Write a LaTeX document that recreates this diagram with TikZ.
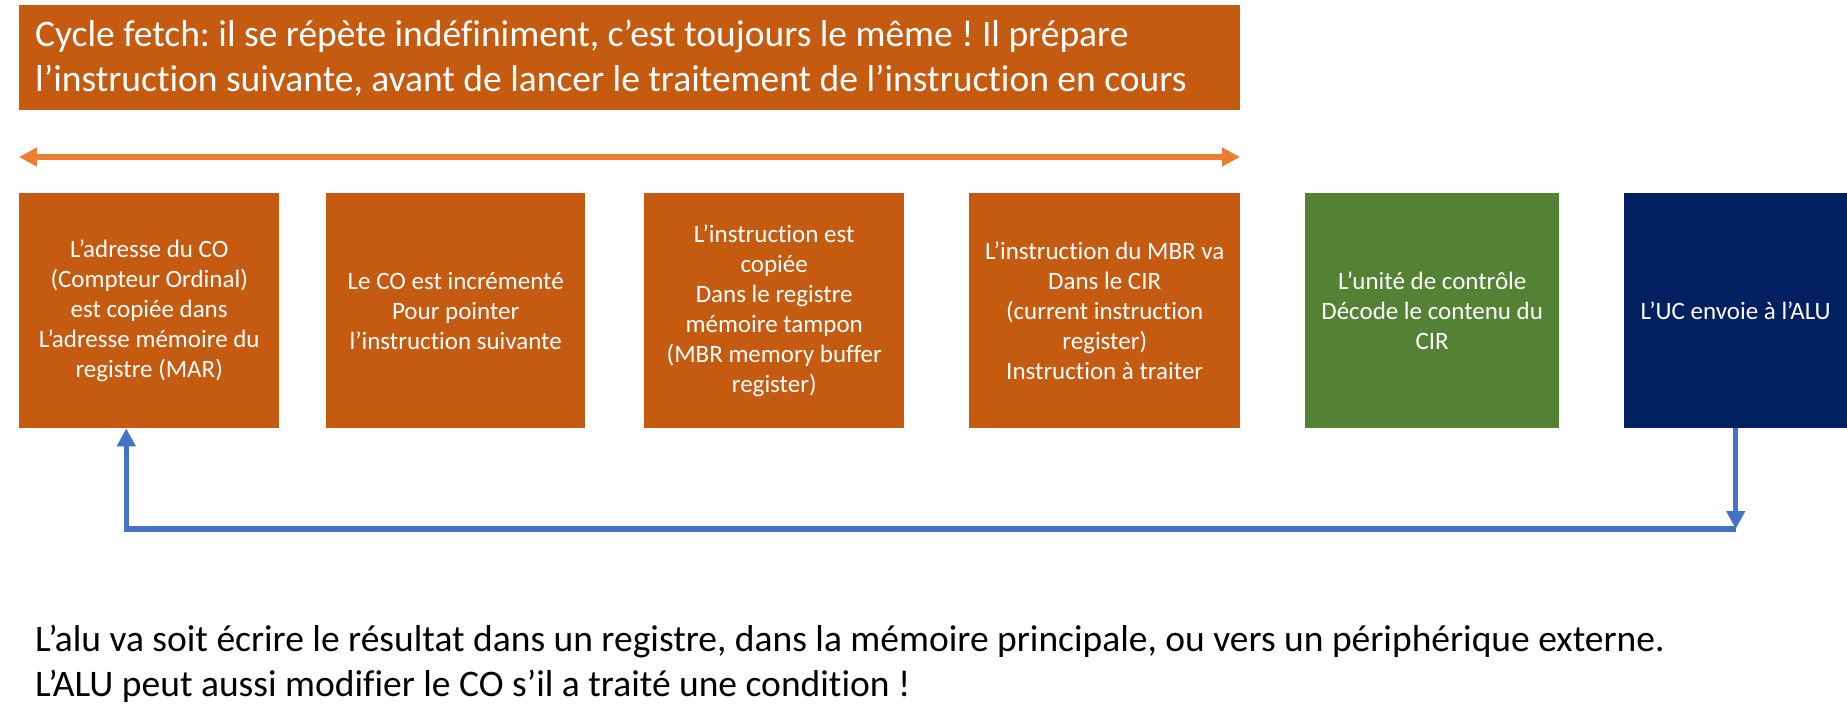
\documentclass[tikz,border=0pt]{standalone}
\usepackage{fontspec}
\setmainfont{Carlito}[Ligatures={NoCommon,NoContextual,NoRequired}]
\usetikzlibrary{arrows.meta,positioning,calc}
\definecolor{boxorange}{HTML}{C55A11}
\definecolor{arroworange}{HTML}{ED7D31}
\definecolor{boxgreen}{HTML}{548235}
\definecolor{boxnavy}{HTML}{002060}
\definecolor{linkblue}{HTML}{4472C4}
\tikzset{
  stepbox/.style={rectangle, fill=boxorange, draw=none, inner sep=0pt, anchor=north west,
    minimum height=235pt, text=white, align=center,
    font=\fontsize{25}{30}\selectfont},
  bluelink/.style={draw=linkblue, line width=5.5pt, -{Triangle[length=18pt,width=18pt]}},
  orangelink/.style={draw=arroworange, line width=5.5pt,
    {Triangle[length=18pt,width=18pt]}-{Triangle[length=18pt,width=18pt]}},
}
\begin{document}
\frenchspacing
\begin{tikzpicture}[x=1pt,y=-1pt]
\useasboundingbox (0,0) rectangle (1847,727);
\fill[white] (0,0) rectangle (1847,727);

% banner
\node[rectangle, fill=boxorange, inner sep=0pt, anchor=north west,
      minimum width=1221pt, minimum height=105pt] (banner) at (19,5) {};
\node[anchor=west, text=white, align=left, inner sep=0pt,
      font=\fontsize{37.5}{45}\selectfont] (bannertext) at (35,58)
  {Cycle fetch: il se répète indéfiniment, c’est toujours le même ! Il prépare\\
   l’instruction suivante, avant de lancer le traitement de l’instruction en cours};

% double arrow
\coordinate (al) at (19,157);
\coordinate (ar) at (1240,157);
\draw[orangelink] (al) -- (ar);

% boxes
\node[stepbox, minimum width=260pt] (b1) at (19,193)
  {L’adresse du CO\\(Compteur Ordinal)\\est copiée dans\\L’adresse mémoire du\\registre (MAR)};
\node[stepbox, minimum width=259pt] (b2) at (326,193)
  {Le CO est incrémenté\\Pour pointer\\l’instruction suivante};
\node[stepbox, minimum width=260pt] (b3) at (644,193)
  {L’instruction est\\copiée\\Dans le registre\\mémoire tampon\\(MBR memory buffer\\register)};
\node[stepbox, minimum width=271pt] (b4) at (969,193)
  {L’instruction du MBR va\\Dans le CIR\\(current instruction\\register)\\Instruction à traiter};
\node[stepbox, fill=boxgreen, minimum width=254pt] (b5) at (1305,193)
  {L’unité de contrôle\\Décode le contenu du\\CIR};
\node[stepbox, fill=boxnavy, minimum width=223pt] (b6) at (1624,193)
  {L’UC envoie à l’ALU};

% feedback connector
\coordinate (corner) at (b6.south |- 0,529);
\coordinate (target) at ($(b1.south west)!0.412!(b1.south east)$);
\draw[bluelink] (b6.south) -- (corner);
\draw[bluelink] (corner) -| (target);

% bottom text
\node[anchor=north west, align=left, inner sep=0pt, text=black,
      font=\fontsize{37.5}{45}\selectfont] (note) at (35,625)
  {L’alu va soit écrire le résultat dans un registre, dans la mémoire principale, ou vers un périphérique externe.\\
   L’ALU peut aussi modifier le CO s’il a traité une condition !};
\end{tikzpicture}
\end{document}
